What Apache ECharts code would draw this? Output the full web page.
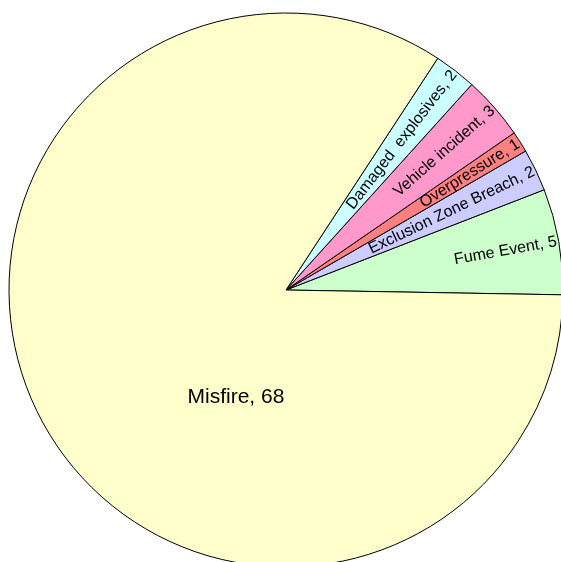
<!DOCTYPE html>
<html>
<head>
<meta charset="utf-8">
<script src="https://cdn.jsdelivr.net/npm/echarts@6/dist/echarts.min.js"></script>
<style>
html,body{margin:0;padding:0;background:#fff;}
#chart{width:561px;height:562px;}
</style>
</head>
<body>
<div id="chart"></div>
<script>
// Data (counter-clockwise order starting just below 3 o'clock)
const categories = ['Fume Event', 'Exclusion Zone Breach', 'Overpressure', 'Vehicle incident', 'Damaged  explosives', 'Misfire'];
const counts = [5, 2, 1, 3, 2, 68];
const colors = ['#CCFFCC', '#CCCCFF', '#FF8080', '#FF99CC', '#CCFFFF', '#FFFFCC'];

const FONT = 'Liberation Sans, Arial, sans-serif';
const SMALL = 16, BIG = 21;
const R = 277;
const END = 272; // where right-aligned radial labels end (px from center)

const cv = document.createElement('canvas').getContext('2d');
function textW(t, size) { cv.font = size + 'px ' + FONT; return cv.measureText(t).width; }

const data = categories.map((name, i) => {
  const item = { name: name, value: counts[i], itemStyle: { color: colors[i] } };
  const txt = name + ', ' + counts[i];
  if (name === 'Misfire') {
    item.label = { rotate: 0, fontSize: BIG };
  } else {
    const w = textW(txt, SMALL);
    item.label = { rotate: 'radial', fontSize: SMALL, padding: [0, 0, 0, Math.max(0, 2 * END - R - w)] };
  }
  return item;
});

const chart = echarts.init(document.getElementById('chart'), null, { renderer: 'canvas' });
chart.setOption({
  animation: false,
  backgroundColor: '#ffffff',
  series: [{
    type: 'pie',
    center: [286, 290],
    radius: [0, R],
    startAngle: -1,
    clockwise: false,
    avoidLabelOverlap: false,
    emphasis: { disabled: true },
    itemStyle: { borderColor: '#000000', borderWidth: 1 },
    label: {
      show: true,
      position: 'inside',
      formatter: '{b}, {c}',
      color: '#000000',
      fontFamily: FONT,
      fontSize: SMALL
    },
    labelLine: { show: false },
    labelLayout: function (p) {
      if (categories[p.dataIndex] === 'Misfire') return { dx: 75, dy: 41 };
    },
    data: data
  }]
});
</script>
</body>
</html>
